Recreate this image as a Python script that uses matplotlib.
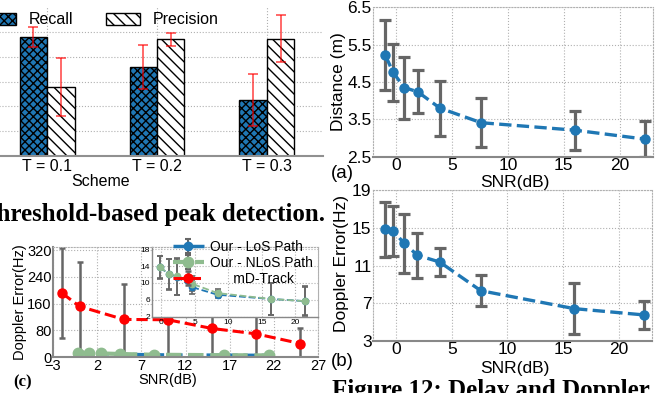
import numpy as np
import matplotlib
matplotlib.use("Agg")
import matplotlib.pyplot as plt

plt.rcParams["font.family"] = ["Liberation Sans", "DejaVu Sans"]
plt.rcParams["hatch.linewidth"] = 1.0

# ---- data -------------------------------------------------------------
schemes = ["T = 0.1", "T = 0.2", "T = 0.3"]
recall = [0.957, 0.718, 0.449]
recall_err = [0.08, 0.18, 0.21]
precision = [0.556, 0.94, 0.946]
precision_err = [0.235, 0.05, 0.19]

snr = [-1.0, -0.3, 0.7, 1.9, 3.9, 7.6, 16.0, 22.3]
distance = [5.22, 4.76, 4.35, 4.24, 3.80, 3.41, 3.21, 2.97]
distance_err = [0.93, 0.76, 0.83, 0.58, 0.74, 0.65, 0.52, 0.48]
doppler = [14.84, 14.69, 13.35, 12.08, 11.37, 8.33, 6.43, 5.76]
doppler_err = [2.92, 2.65, 3.12, 2.37, 1.45, 1.66, 2.70, 1.45]

snr_md = [-2, 0, 5, 10, 15, 20, 25]
md_track = [192, 152, 113, 112, 86, 70, 41]
md_track_err = [134, 133, 107, 110, 86, 70, 47]

snr_our = [-0.2, 1.1, 2.4, 4.6, 8.4, 16.4, 21.4]
los = [13.7, 12.1, 11.4, 9.0, 7.2, 6.2, 5.7]
los_err = [2.8, 3.6, 4.2, 1.6, 0.8, 3.7, 3.5]
nlos = [13.8, 12.1, 11.6, 9.8, 7.6, 6.2, 5.7]
nlos_err = [2.7, 3.7, 4.4, 1.8, 0.9, 3.8, 3.4]

W, H = 661, 393
BLUE = "#1f77b4"
GREEN = "#8fbc8f"
GRAY = "#666666"
GRID = "#b0b0b0"


def rect(x0, y0, x1, y1):
    return [x0 / W, 1 - y1 / H, (x1 - x0) / W, (y1 - y0) / H]


def fx(x):
    return x / W


def fy(y):
    return 1 - y / H


def style(ax, left_solid=False, lw=1.5):
    ax.grid(True, ls=":", color=GRID, lw=0.8)
    ax.set_axisbelow(True)
    for s in ["top", "right", "left"]:
        ax.spines[s].set_linestyle(":")
        ax.spines[s].set_color(GRID)
        ax.spines[s].set_linewidth(0.8)
    ax.spines["bottom"].set_color("#888888")
    ax.spines["bottom"].set_linewidth(lw)
    if left_solid:
        ax.spines["left"].set_linestyle("-")
        ax.spines["left"].set_color("#888888")
        ax.spines["left"].set_linewidth(lw)


fig = plt.figure(figsize=(W / 100, H / 100), dpi=100)

# ---- bar chart (top left) ---------------------------------------------
ax1 = fig.add_axes(rect(-9, 7.2, 323, 156))
x = np.arange(len(schemes))
w = 0.25
ekw = dict(ecolor="red", elinewidth=1.1, capsize=3.5, capthick=1.1, alpha=0.75)
b1 = ax1.bar(x - w / 2, recall, w, color=BLUE, edgecolor="black", lw=1.0,
             hatch="xxxx", yerr=recall_err, error_kw=ekw, label="Recall")
b2 = ax1.bar(x + w / 2, precision, w, color="white", edgecolor="black", lw=1.0,
             hatch="\\\\\\", yerr=precision_err, error_kw=ekw, label="Precision")
ax1.set_xlim(-0.51, 2.51)
ax1.set_ylim(0, 1.2)
ax1.set_yticks([0.2, 0.4, 0.6, 0.8, 1.0])
ax1.set_xticks(x, schemes)
ax1.grid(True, ls=":", color=GRID, lw=0.8)
ax1.set_axisbelow(True)
for s in ["top", "right", "left"]:
    ax1.spines[s].set_visible(False)
ax1.spines["bottom"].set_color("#909090")
ax1.spines["bottom"].set_linewidth(1.5)
ax1.tick_params(length=0, labelleft=False, labelsize=11.5, pad=2)
fig.text(fx(101), fy(182), "Scheme", ha="center", va="center", fontsize=11.5)
fig.legend([b1, b2], ["Recall", "Precision"], loc="center left",
           bbox_to_anchor=(fx(-18), fy(20)), ncol=2, frameon=False,
           fontsize=11.5, handlelength=2.1, handleheight=0.75,
           handletextpad=0.8, columnspacing=2.1, borderpad=0, borderaxespad=0)

# ---- (a) distance -----------------------------------------------------
ax2 = fig.add_axes(rect(373, 7.3, 653, 156.7))
ax2.errorbar(snr, distance, yerr=distance_err, fmt="o--", color=BLUE, ms=6.5,
             lw=2.4, ecolor=GRAY, elinewidth=2.3, capsize=4, capthick=2.3)
ax2.set_xlim(-2.1, 23.0)
ax2.set_ylim(2.5, 6.5)
ax2.set_xticks([0, 5, 10, 15, 20])
ax2.set_yticks([2.5, 3.5, 4.5, 5.5, 6.5])
style(ax2)
ax2.tick_params(length=0, labelsize=12.5, pad=1)
fig.text(fx(338.5), fy(82), "Distance (m)", rotation=90, ha="center", va="center", fontsize=12.5)
fig.text(fx(515), fy(183), "SNR(dB)", ha="center", va="center", fontsize=12.5)
fig.text(fx(342), fy(173), "(a)", ha="center", va="center", fontsize=13.5)

# ---- (b) doppler ------------------------------------------------------
ax3 = fig.add_axes(rect(373, 190, 652, 341))
ax3.errorbar(snr, doppler, yerr=doppler_err, fmt="o--", color=BLUE, ms=6.5,
             lw=2.4, ecolor=GRAY, elinewidth=2.3, capsize=4, capthick=2.3)
ax3.set_xlim(-2.1, 23.0)
ax3.set_ylim(3, 19)
ax3.set_xticks([0, 5, 10, 15, 20])
ax3.set_yticks([3, 7, 11, 15, 19])
style(ax3)
ax3.tick_params(length=0, labelsize=12.5, pad=1)
fig.text(fx(341.7), fy(263), "Doppler Error(Hz)", rotation=90, ha="center", va="center", fontsize=12.5)
fig.text(fx(515), fy(368), "SNR(dB)", ha="center", va="center", fontsize=12.5)
fig.text(fx(342), fy(362), "(b)", ha="center", va="center", fontsize=13.5)

# ---- (c) comparison with inset ------------------------------------------
ax4 = fig.add_axes(rect(53, 246.7, 318, 357.3))
e_los = ax4.errorbar(snr_our, los, yerr=los_err, fmt="o--", color=BLUE, ms=6,
                     lw=2.5, ecolor=GRAY, elinewidth=1.5, capsize=2, capthick=1.5)
e_nlos = ax4.errorbar(snr_our, nlos, yerr=nlos_err, fmt="o--", color=GREEN, ms=7.5,
                      lw=3, ecolor=GRAY, elinewidth=1.5, capsize=2, capthick=1.5)
e_md = ax4.errorbar(snr_md, md_track, yerr=md_track_err, fmt="o--", color="red", ms=6.5,
                    lw=2.2, ecolor=GRAY, elinewidth=1.8, capsize=2.5, capthick=1.8)
ax4.set_xlim(-3, 27)
ax4.set_ylim(0, 330)
ax4.set_xticks([-3, 2, 7, 12, 17, 22, 27])
ax4.set_yticks([0, 80, 160, 240, 320])
style(ax4, left_solid=True)
ax4.tick_params(length=0, labelsize=10.5, pad=1)
fig.text(fx(20), fy(302), "Doppler Error(Hz)", rotation=90, ha="center", va="center", fontsize=10.5)
fig.text(fx(168), fy(380), "SNR(dB)", ha="center", va="center", fontsize=10.5)
fig.text(fx(23), fy(382), "(c)", ha="center", va="center", fontsize=12,
         family="Liberation Serif", weight="bold")

ax5 = fig.add_axes(rect(152, 246.7, 318, 316.7))
ax5.set_zorder(3)
ax5.errorbar(snr_our, los, yerr=los_err, fmt="o--", color=BLUE, ms=4.5,
             lw=1.3, ecolor=GRAY, elinewidth=1.2, capsize=2, capthick=1.2)
ax5.errorbar(snr_our, nlos, yerr=nlos_err, fmt="o--", color=GREEN, ms=4.5,
             lw=1.3, ecolor=GRAY, elinewidth=1.2, capsize=2, capthick=1.2)
ax5.set_xlim(-1.4, 23.4)
ax5.set_ylim(2, 18.6)
ax5.set_xticks([0, 5, 10, 15, 20])
ax5.set_yticks([2, 6, 10, 14, 18])
style(ax5, left_solid=True, lw=1.0)
ax5.tick_params(length=0, labelsize=6, pad=1.5)

leg = fig.legend([e_los, e_nlos, e_md],
                 ["Our - LoS Path", "Our - NLoS Path", "      mD-Track"],
                 loc="upper left", bbox_to_anchor=(fx(173), fy(240)),
                 frameon=False, fontsize=10, labelspacing=0.15,
                 handlelength=2.2, handletextpad=0.5, borderpad=0, borderaxespad=0)
leg.set_zorder(10)

# ---- captions -----------------------------------------------------------
fig.text(fx(325), fy(221), "Threshold-based peak detection.", ha="right", va="baseline",
         fontsize=17.9, family="Liberation Serif", weight="bold")
fig.text(fx(332), fy(397), "Figure 12: Delay and Doppler", ha="left", va="baseline",
         fontsize=18, family="Liberation Serif", weight="bold")

fig.savefig("out.png", dpi=100)
